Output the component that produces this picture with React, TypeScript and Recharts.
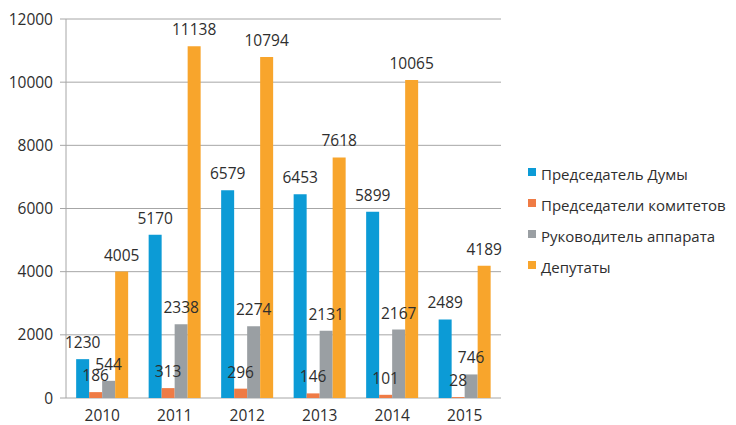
import {
  Bar,
  BarChart,
  CartesianGrid,
  LabelList,
  XAxis,
  YAxis,
} from 'recharts'

const years = ['2010', '2011', '2012', '2013', '2014', '2015']
const chairman = [1230, 5170, 6579, 6453, 5899, 2489]
const committeeHeads = [186, 313, 296, 146, 101, 28]
const staffHead = [544, 2338, 2274, 2131, 2167, 746]
const deputies = [4005, 11138, 10794, 7618, 10065, 4189]
const yTicks = [0, 2000, 4000, 6000, 8000, 10000, 12000]
const boundaryTicks = [0, 1, 2, 3, 4, 5, 6]

const series = [
  { key: 'chairman', name: 'Председатель Думы', color: '#0C9BD6' },
  { key: 'committeeHeads', name: 'Председатели комитетов', color: '#EF7B45' },
  { key: 'staffHead', name: 'Руководитель аппарата', color: '#9A9FA3' },
  { key: 'deputies', name: 'Депутаты', color: '#F8A52C' },
]

const data = years.map((year, i) => ({
  year,
  chairman: chairman[i],
  committeeHeads: committeeHeads[i],
  staffHead: staffHead[i],
  deputies: deputies[i],
}))

const font = '"Open Sans", sans-serif'
const textColor = '#2e2e2e'
const gridColor = '#A6A6A6'

// legend kept outside the svg so it doesn't steal plot space
const LegendList = () => (
  <div
    style={{
      position: 'absolute',
      left: 528,
      top: 158,
      width: 208,
      fontFamily: font,
      fontSize: 15,
      color: textColor,
    }}
  >
    {series.map((s) => (
      <div
        key={s.key}
        style={{ display: 'flex', alignItems: 'center', height: 31 }}
      >
        <span
          style={{
            display: 'inline-block',
            width: 8,
            height: 8,
            background: s.color,
            marginRight: 5,
            marginTop: -3,
          }}
        />
        <span>{s.name}</span>
      </div>
    ))}
  </div>
)

export default function App() {
  return (
    <div
      style={{
        position: 'absolute',
        left: 0,
        top: 0,
        width: 736,
        height: 425,
        background: '#fff',
      }}
    >
      <BarChart
        width={736}
        height={425}
        data={data}
        margin={{ top: 19, right: 235, bottom: 0, left: 0 }}
        barCategoryGap="14%"
        barGap={0}
      >
        <CartesianGrid vertical={false} stroke={gridColor} />
        <XAxis
          xAxisId="bounds"
          type="number"
          domain={[0, 6]}
          ticks={boundaryTicks}
          height={0}
          stroke={gridColor}
          tickSize={6}
          tickFormatter={() => ''}
        />
        <XAxis
          dataKey="year"
          height={27}
          axisLine={false}
          tickLine={false}
          tickSize={0}
          tickMargin={12}
          tick={{ fill: textColor, fontSize: 15.5, fontFamily: font }}
        />
        <YAxis
          width={66}
          domain={[0, 12000]}
          ticks={yTicks}
          stroke={gridColor}
          tickSize={6}
          tickMargin={7}
          tick={{ fill: textColor, fontSize: 15.5, fontFamily: font }}
        />
        {series.map((s) => (
          <Bar
            key={s.key}
            dataKey={s.key}
            name={s.name}
            fill={s.color}
            isAnimationActive={false}
          >
            <LabelList
              dataKey={s.key}
              position="top"
              offset={11}
              fill={textColor}
              fontSize={15.5}
              fontFamily={font}
            />
          </Bar>
        ))}
      </BarChart>
      <LegendList />
    </div>
  )
}
